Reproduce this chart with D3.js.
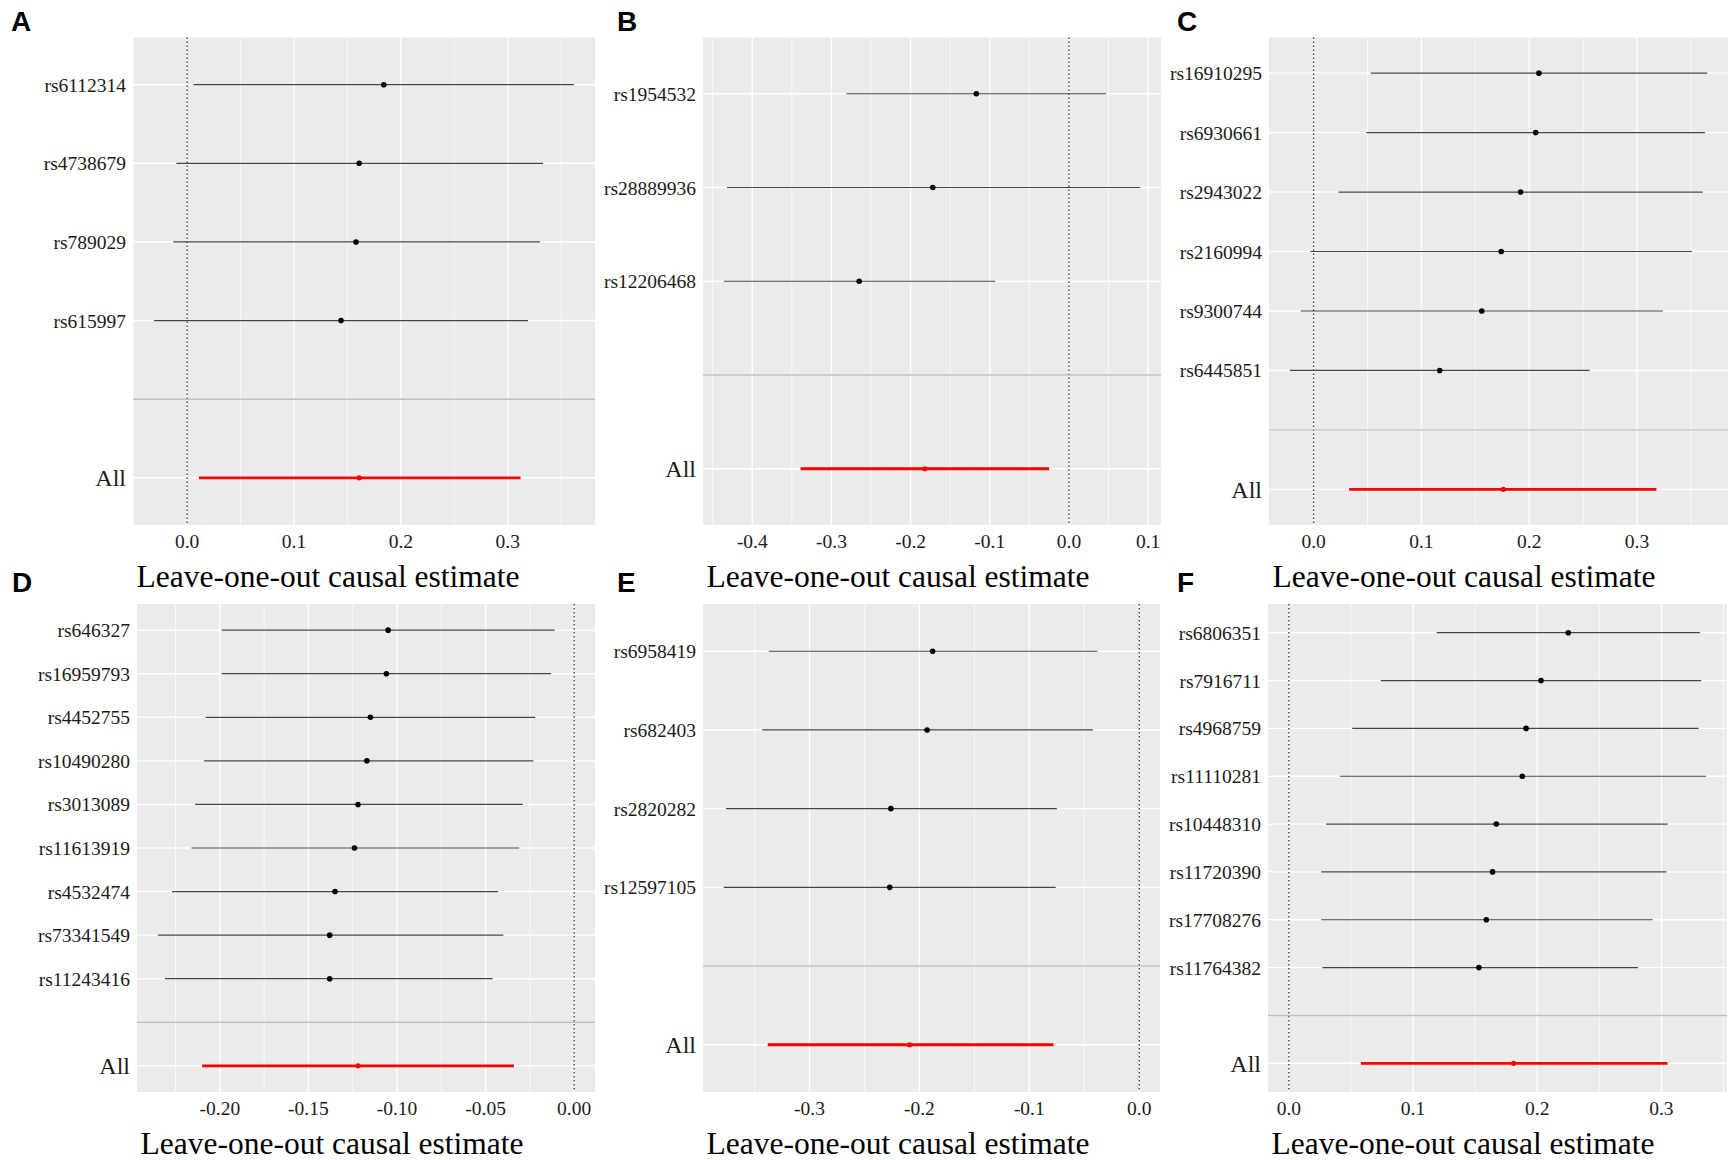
<!DOCTYPE html>
<meta charset="utf-8" />
<script src="https://d3js.org/d3.v7.min.js"></script>
<style>
	body { margin: 0; background: #fff; }
</style>
<div id="figure"></div>
<script>
	// ---- data: leave-one-out estimates, listed top to bottom ----
	// panel A
	var snpsA = ["rs6112314", "rs4738679", "rs789029", "rs615997"];
	var bA = [0.184, 0.161, 0.158, 0.144];
	var loA = [0.006, -0.010, -0.013, -0.031];
	var hiA = [0.362, 0.333, 0.330, 0.319];
	var allA = [0.161, 0.011, 0.312]; // b, lo, hi
	var ticksA = [0, 0.1, 0.2, 0.3];

	// panel B
	var snpsB = ["rs1954532", "rs28889936", "rs12206468"];
	var bB = [-0.117, -0.172, -0.265];
	var loB = [-0.281, -0.432, -0.436];
	var hiB = [0.047, 0.090, -0.093];
	var allB = [-0.182, -0.339, -0.025];
	var ticksB = [-0.4, -0.3, -0.2, -0.1, 0, 0.1];

	// panel C
	var snpsC = ["rs16910295", "rs6930661", "rs2943022", "rs2160994", "rs9300744", "rs6445851"];
	var bC = [0.209, 0.206, 0.192, 0.174, 0.156, 0.117];
	var loC = [0.053, 0.049, 0.023, -0.003, -0.012, -0.022];
	var hiC = [0.365, 0.363, 0.361, 0.351, 0.324, 0.256];
	var allC = [0.176, 0.033, 0.318];
	var ticksC = [0, 0.1, 0.2, 0.3];

	// panel D
	var snpsD = ["rs646327", "rs16959793", "rs4452755", "rs10490280", "rs3013089",
		"rs11613919", "rs4532474", "rs73341549", "rs11243416"];
	var bD = [-0.105, -0.106, -0.115, -0.117, -0.122, -0.124, -0.135, -0.138, -0.138];
	var loD = [-0.199, -0.199, -0.208, -0.209, -0.214, -0.216, -0.227, -0.235, -0.231];
	var hiD = [-0.011, -0.013, -0.022, -0.023, -0.029, -0.031, -0.043, -0.040, -0.046];
	var allD = [-0.122, -0.210, -0.034];
	var ticksD = [-0.2, -0.15, -0.1, -0.05, 0];

	// panel E
	var snpsE = ["rs6958419", "rs682403", "rs2820282", "rs12597105"];
	var bE = [-0.188, -0.193, -0.226, -0.227];
	var loE = [-0.337, -0.343, -0.376, -0.378];
	var hiE = [-0.038, -0.042, -0.075, -0.076];
	var allE = [-0.209, -0.338, -0.078];
	var ticksE = [-0.3, -0.2, -0.1, 0];

	// panel F
	var snpsF = ["rs6806351", "rs7916711", "rs4968759", "rs11110281", "rs10448310",
		"rs11720390", "rs17708276", "rs11764382"];
	var bF = [0.225, 0.203, 0.191, 0.188, 0.167, 0.164, 0.159, 0.153];
	var loF = [0.119, 0.074, 0.051, 0.041, 0.030, 0.026, 0.026, 0.027];
	var hiF = [0.331, 0.332, 0.330, 0.336, 0.305, 0.304, 0.293, 0.281];
	var allF = [0.181, 0.058, 0.305];
	var ticksF = [0, 0.1, 0.2, 0.3];

	var xTitle = "Leave-one-out causal estimate";

	// ---- layout ----
	var W = 1733, H = 1160;
	var panels = [
		{ tag: "A", snps: snpsA, b: bA, lo: loA, hi: hiA, all: allA, ticks: ticksA, fmt: ".1f", x0: 133, x1: 595, y0: 37.5, y1: 525, tagX: 11, tagY: 31 },
		{ tag: "B", snps: snpsB, b: bB, lo: loB, hi: hiB, all: allB, ticks: ticksB, fmt: ".1f", x0: 703, x1: 1161, y0: 37.5, y1: 525, tagX: 617, tagY: 31 },
		{ tag: "C", snps: snpsC, b: bC, lo: loC, hi: hiC, all: allC, ticks: ticksC, fmt: ".1f", x0: 1269, x1: 1728, y0: 37.5, y1: 525, tagX: 1177, tagY: 31 },
		{ tag: "D", snps: snpsD, b: bD, lo: loD, hi: hiD, all: allD, ticks: ticksD, fmt: ".2f", x0: 137, x1: 595, y0: 604, y1: 1092, tagX: 12, tagY: 591.5 },
		{ tag: "E", snps: snpsE, b: bE, lo: loE, hi: hiE, all: allE, ticks: ticksE, fmt: ".1f", x0: 703, x1: 1160, y0: 604, y1: 1092, tagX: 617, tagY: 591.5 },
		{ tag: "F", snps: snpsF, b: bF, lo: loF, hi: hiF, all: allF, ticks: ticksF, fmt: ".1f", x0: 1268, x1: 1727, y0: 604, y1: 1092, tagX: 1177, tagY: 591.5 }
	];

	var serif = "'Liberation Serif', 'Times New Roman', serif";
	var sans = "'Liberation Sans', Arial, sans-serif";

	var svg = d3.select("#figure")
		.append("svg")
		.attr("width", W)
		.attr("height", H)
		.style("background", "#fff");

	panels.forEach(function (p) {
		// rows: snps, a blank gap level, then "All"
		var rows = p.snps.map(function (s, i) {
			return { snp: s, b: p.b[i], lo: p.lo[i], hi: p.hi[i], tot: false };
		});
		rows.push({ snp: "All", b: p.all[0], lo: p.all[1], hi: p.all[2], tot: true });
		var levels = p.snps.concat(["", "All"]);

		// x domain like ggplot: data + 0 line, expanded 5%
		var mn = Math.min(0, d3.min(rows, d => d.lo));
		var mx = Math.max(0, d3.max(rows, d => d.hi));
		var pad = (mx - mn) * 0.05;
		var x = d3.scaleLinear().domain([mn - pad, mx + pad]).range([p.x0, p.x1]);
		var y = d3.scalePoint().domain(levels).range([p.y0, p.y1]).padding(0.6);

		var g = svg.append("g");

		// panel background
		g.append("rect")
			.attr("x", p.x0).attr("y", p.y0)
			.attr("width", p.x1 - p.x0).attr("height", p.y1 - p.y0)
			.attr("fill", "#EBEBEB");

		// minor vertical grid (midpoints between breaks, one step beyond)
		var step = p.ticks[1] - p.ticks[0];
		var minor = [];
		for (var i = -1; i < p.ticks.length; i++) {
			var m = p.ticks[0] + step * (i + 0.5);
			if (m >= x.domain()[0] && m <= x.domain()[1]) minor.push(m);
		}
		g.selectAll(".minor").data(minor).join("line")
			.attr("x1", d => x(d)).attr("x2", d => x(d))
			.attr("y1", p.y0).attr("y2", p.y1)
			.attr("stroke", "#fff").attr("stroke-width", 0.7);

		// major vertical grid
		g.selectAll(".major").data(p.ticks).join("line")
			.attr("x1", d => x(d)).attr("x2", d => x(d))
			.attr("y1", p.y0).attr("y2", p.y1)
			.attr("stroke", "#fff").attr("stroke-width", 1.4);

		// horizontal grid at each level
		g.selectAll(".hgrid").data(levels).join("line")
			.attr("x1", p.x0).attr("x2", p.x1)
			.attr("y1", d => y(d)).attr("y2", d => y(d))
			.attr("stroke", "#fff").attr("stroke-width", 1.4);

		// dotted line at zero
		g.append("line")
			.attr("x1", x(0)).attr("x2", x(0))
			.attr("y1", p.y0).attr("y2", p.y1)
			.attr("stroke", "#333").attr("stroke-width", 1.3)
			.attr("stroke-dasharray", "1.5,2.5");

		// error bars
		g.selectAll(".bar").data(rows).join("line")
			.attr("x1", d => x(d.lo)).attr("x2", d => x(d.hi))
			.attr("y1", d => y(d.snp)).attr("y2", d => y(d.snp))
			.attr("stroke", d => d.tot ? "#f00" : "#444")
			.attr("stroke-width", d => d.tot ? 2.8 : 1.2);

		// points
		g.selectAll(".pt").data(rows).join("circle")
			.attr("cx", d => x(d.b)).attr("cy", d => y(d.snp))
			.attr("r", d => d.tot ? 2.6 : 2.8)
			.attr("fill", d => d.tot ? "#f00" : "#000");

		// grey separator at the blank level
		g.append("line")
			.attr("x1", p.x0).attr("x2", p.x1)
			.attr("y1", y("")).attr("y2", y(""))
			.attr("stroke", "#BEBEBE").attr("stroke-width", 1.4);

		// y labels
		g.selectAll(".ylab").data(levels.filter(d => d !== "")).join("text")
			.attr("x", p.x0 - 7)
			.attr("y", d => y(d))
			.attr("dy", "0.36em")
			.attr("text-anchor", "end")
			.style("font-family", serif)
			.style("font-size", d => d === "All" ? "24px" : "19.5px")
			.attr("fill", "#1a1a1a")
			.text(d => d);

		// x tick labels
		var fmt = d3.format(p.fmt);
		g.selectAll(".xlab").data(p.ticks).join("text")
			.attr("x", d => x(d))
			.attr("y", p.y1 + 23)
			.attr("text-anchor", "middle")
			.style("font-family", serif)
			.style("font-size", "19.5px")
			.attr("fill", "#1a1a1a")
			.text(d => fmt(d).replace("\u2212", "-"));

		// axis title
		g.append("text")
			.attr("x", p.x0 + 3.5)
			.attr("y", p.y1 + 62)
			.style("font-family", serif)
			.style("font-size", "31.5px")
			.attr("fill", "#000")
			.text(xTitle);

		// panel tag
		g.append("text")
			.attr("x", p.tagX)
			.attr("y", p.tagY)
			.style("font-family", sans)
			.style("font-weight", "bold")
			.style("font-size", "28px")
			.attr("fill", "#000")
			.text(p.tag);
	});
</script>
